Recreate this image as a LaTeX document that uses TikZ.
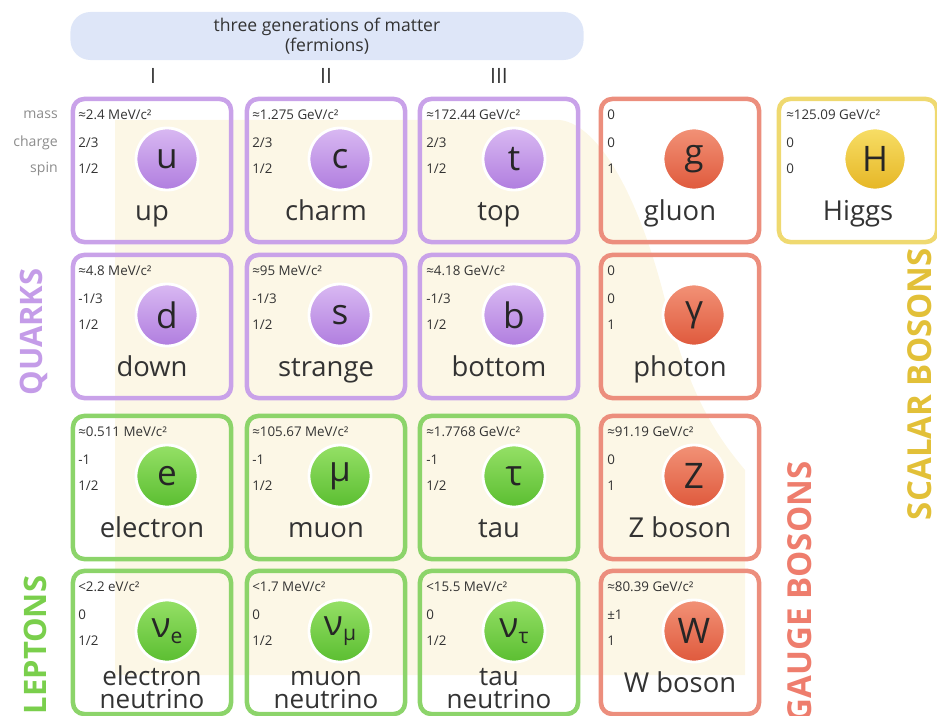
\documentclass[tikz,border=0pt]{standalone}
\usepackage{fontspec}
\setmainfont{Open Sans}
\usepackage{tikz}
\usepackage{xcolor}
\usetikzlibrary{positioning,shapes.misc}

\definecolor{qline}{HTML}{C9A2E9}
\definecolor{qtop}{HTML}{D9B9F2}
\definecolor{qbot}{HTML}{B07DDF}
\definecolor{qtext}{HTML}{C49CE8}
\definecolor{lline}{HTML}{8CD46A}
\definecolor{ltop}{HTML}{95E066}
\definecolor{lbot}{HTML}{5BBE31}
\definecolor{ltext}{HTML}{7ACF4C}
\definecolor{gline}{HTML}{EC8E7D}
\definecolor{gtop}{HTML}{F29277}
\definecolor{gbot}{HTML}{DF593C}
\definecolor{gtext}{HTML}{EE7D6D}
\definecolor{hline}{HTML}{EFD970}
\definecolor{htop}{HTML}{F7DE66}
\definecolor{hbot}{HTML}{E6B625}
\definecolor{htext}{HTML}{E2C038}
\definecolor{headblue}{HTML}{DEE6F8}
\definecolor{cream}{HTML}{FCF7E6}
\definecolor{labgray}{HTML}{8C8C8C}
\definecolor{textgray}{HTML}{333333}

\tikzset{
  pbox/.style={draw, rounded corners=8pt, line width=3.2pt, minimum width=3.95cm, minimum height=3.575cm, inner sep=0pt},
  qbox/.style={pbox, draw=qline},
  lbox/.style={pbox, draw=lline},
  gbox/.style={pbox, draw=gline},
  hbox/.style={pbox, draw=hline},
  ball/.style={circle, minimum size=1.55cm, inner sep=0pt, draw=white, line width=2pt, text=black!85, font=\fontsize{25}{25}\selectfont},
  qball/.style={ball, top color=qtop, bottom color=qbot},
  lball/.style={ball, top color=ltop, bottom color=lbot},
  gball/.style={ball, top color=gtop, bottom color=gbot},
  hball/.style={ball, top color=htop, bottom color=hbot},
  pname/.style={align=center, text=textgray, inner sep=0pt, text height=15pt, text depth=4.5pt, font=\fontsize{19.5}{17}\selectfont},
  nuname/.style={pname, font=\fontsize{18.5}{16.5}\selectfont},
  prop/.style={anchor=west, inner sep=0pt, text=textgray, font=\fontsize{9.5}{10}\selectfont},
  rowlab/.style={anchor=east, inner sep=0pt, text=labgray, font=\fontsize{10}{10}\selectfont},
  side/.style={rotate=90, inner sep=0pt, font=\bfseries\fontsize{22}{22}\selectfont},
  gennum/.style={text=textgray, font=\fontsize{15}{15}\selectfont}
}

\begin{document}
\begin{tikzpicture}[x=0.025cm,y=-0.025cm]
  \useasboundingbox (0,0) rectangle (937,715);
  % cream backdrop of the fermion block
  \fill[cream] (115,675) -- (115,120) -- (560,120) .. controls (600,125) and (640,200) .. (665,300) .. controls (690,400) and (720,440) .. (745,470) -- (745,675) -- cycle;

  % header
  \node[fill=headblue, rounded corners=0.5cm, minimum width=12.825cm, minimum height=1.2cm, align=center, text=textgray, font=\fontsize{12.5}{14}\selectfont] (gen) at (327,36) {three generations of matter\\(fermions)};
  \node[gennum] (gen1) at (153,76) {I};
  \node[gennum] (gen2) at (326,76) {II};
  \node[gennum] (gen3) at (499,76) {III};

  % row labels
  \node[rowlab] (lmass) at (58,115) {mass};
  \node[rowlab] (lcharge) at (58,143) {charge};
  \node[rowlab] (lspin) at (58,169) {spin};

  % Quarks
  \node[qbox] (up) at (152,170.5) {};
  \node[qball] (u) at (167,159) {u};
  \node[pname] (up-n) at (152,213.5) {up};
  \node[prop] (up-m) at (78,115) {≈2.4 MeV/c²};
  \node[prop] (up-q) at (78,143) {2/3};
  \node[prop] (up-s) at (78,169) {1/2};

  \node[qbox] (charm) at (326,170.5) {};
  \node[qball] (c) at (340,159) {c};
  \node[pname] (charm-n) at (326,213.5) {charm};
  \node[prop] (charm-m) at (252,115) {≈1.275 GeV/c²};
  \node[prop] (charm-q) at (252,143) {2/3};
  \node[prop] (charm-s) at (252,169) {1/2};

  \node[qbox] (top) at (499,170.5) {};
  \node[qball] (t) at (514,159) {t};
  \node[pname] (top-n) at (499,213.5) {top};
  \node[prop] (top-m) at (426,115) {≈172.44 GeV/c²};
  \node[prop] (top-q) at (426,143) {2/3};
  \node[prop] (top-s) at (426,169) {1/2};

  \node[qbox] (down) at (152,326.5) {};
  \node[qball] (d) at (167,315) {d};
  \node[pname] (down-n) at (152,369.5) {down};
  \node[prop] (down-m) at (78,271) {≈4.8 MeV/c²};
  \node[prop] (down-q) at (78,299) {-1/3};
  \node[prop] (down-s) at (78,325) {1/2};

  \node[qbox] (strange) at (326,326.5) {};
  \node[qball] (s) at (340,315) {s};
  \node[pname] (strange-n) at (326,369.5) {strange};
  \node[prop] (strange-m) at (252,271) {≈95 MeV/c²};
  \node[prop] (strange-q) at (252,299) {-1/3};
  \node[prop] (strange-s) at (252,325) {1/2};

  \node[qbox] (bottom) at (499,326.5) {};
  \node[qball] (b) at (514,315) {b};
  \node[pname] (bottom-n) at (499,369.5) {bottom};
  \node[prop] (bottom-m) at (426,271) {≈4.18 GeV/c²};
  \node[prop] (bottom-q) at (426,299) {-1/3};
  \node[prop] (bottom-s) at (426,325) {1/2};

  % Leptons
  \node[lbox] (electron) at (152,487.5) {};
  \node[lball] (e) at (167,476) {e};
  \node[pname] (electron-n) at (152,530) {electron};
  \node[prop] (electron-m) at (78,432) {≈0.511 MeV/c²};
  \node[prop] (electron-q) at (78,460) {-1};
  \node[prop] (electron-s) at (78,486) {1/2};

  \node[lbox] (muon) at (326,487.5) {};
  \node[lball] (mu) at (340,476) {μ};
  \node[pname] (muon-n) at (326,530) {muon};
  \node[prop] (muon-m) at (252,432) {≈105.67 MeV/c²};
  \node[prop] (muon-q) at (252,460) {-1};
  \node[prop] (muon-s) at (252,486) {1/2};

  \node[lbox] (tau) at (499,487.5) {};
  \node[lball] (ta) at (514,476) {τ};
  \node[pname] (tau-n) at (499,530) {tau};
  \node[prop] (tau-m) at (426,432) {≈1.7768 GeV/c²};
  \node[prop] (tau-q) at (426,460) {-1};
  \node[prop] (tau-s) at (426,486) {1/2};

  \node[lbox] (enu) at (152,642.5) {};
  \node[lball] (nue) at (167,631) {ν\raisebox{-4pt}{\fontsize{15}{15}\selectfont e}};
  \node[nuname] (enu-n) at (152,701) {electron\\neutrino};
  \node[prop] (enu-m) at (78,587) {<2.2 eV/c²};
  \node[prop] (enu-q) at (78,615) {0};
  \node[prop] (enu-s) at (78,641) {1/2};

  \node[lbox] (munu) at (326,642.5) {};
  \node[lball] (numu) at (340,631) {ν\raisebox{-4pt}{\fontsize{15}{15}\selectfont μ}};
  \node[nuname] (munu-n) at (326,701) {muon\\neutrino};
  \node[prop] (munu-m) at (252,587) {<1.7 MeV/c²};
  \node[prop] (munu-q) at (252,615) {0};
  \node[prop] (munu-s) at (252,641) {1/2};

  \node[lbox] (taunu) at (499,642.5) {};
  \node[lball] (nutau) at (514,631) {ν\raisebox{-4pt}{\fontsize{15}{15}\selectfont τ}};
  \node[nuname] (taunu-n) at (499,701) {tau\\neutrino};
  \node[prop] (taunu-m) at (426,587) {<15.5 MeV/c²};
  \node[prop] (taunu-q) at (426,615) {0};
  \node[prop] (taunu-s) at (426,641) {1/2};

  % Gauge bosons
  \node[gbox] (gluon) at (680,170.5) {};
  \node[gball] (g) at (694,159) {g};
  \node[pname] (gluon-n) at (680,213.5) {gluon};
  \node[prop] (gluon-m) at (607,115) {0};
  \node[prop] (gluon-q) at (607,143) {0};
  \node[prop] (gluon-s) at (607,169) {1};

  \node[gbox] (photon) at (680,326.5) {};
  \node[gball] (gamma) at (694,315) {γ};
  \node[pname] (photon-n) at (680,369.5) {photon};
  \node[prop] (photon-m) at (607,271) {0};
  \node[prop] (photon-q) at (607,299) {0};
  \node[prop] (photon-s) at (607,325) {1};

  \node[gbox] (zboson) at (680,487.5) {};
  \node[gball] (Z) at (694,476) {Z};
  \node[pname] (zboson-n) at (680,530) {Z boson};
  \node[prop] (zboson-m) at (607,432) {≈91.19 GeV/c²};
  \node[prop] (zboson-q) at (607,460) {0};
  \node[prop] (zboson-s) at (607,486) {1};

  \node[gbox] (wboson) at (680,642.5) {};
  \node[gball] (W) at (694,631) {W};
  \node[pname] (wboson-n) at (680,685.5) {W boson};
  \node[prop] (wboson-m) at (607,587) {≈80.39 GeV/c²};
  \node[prop] (wboson-q) at (607,615) {±1};
  \node[prop] (wboson-s) at (607,641) {1};

  % Scalar boson
  \node[hbox] (higgs) at (858,170.5) {};
  \node[hball] (H) at (875,159) {H};
  \node[pname] (higgs-n) at (858,213.5) {Higgs};
  \node[prop] (higgs-m) at (786,115) {≈125.09 GeV/c²};
  \node[prop] (higgs-q) at (786,143) {0};
  \node[prop] (higgs-s) at (786,169) {0};

  % group labels
  \node[side, text=qtext] (quarks) at (34,332) {QUARKS};
  \node[side, text=ltext] (leptons) at (35,645) {LEPTONS};
  \node[side, text=gtext, font=\bfseries\fontsize{23.5}{23.5}\selectfont] (gauge) at (800,592) {GAUGE BOSONS};
  \node[side, text=htext, font=\bfseries\fontsize{23.5}{23.5}\selectfont] (scalar) at (920,384) {SCALAR BOSONS};
\end{tikzpicture}
\end{document}
